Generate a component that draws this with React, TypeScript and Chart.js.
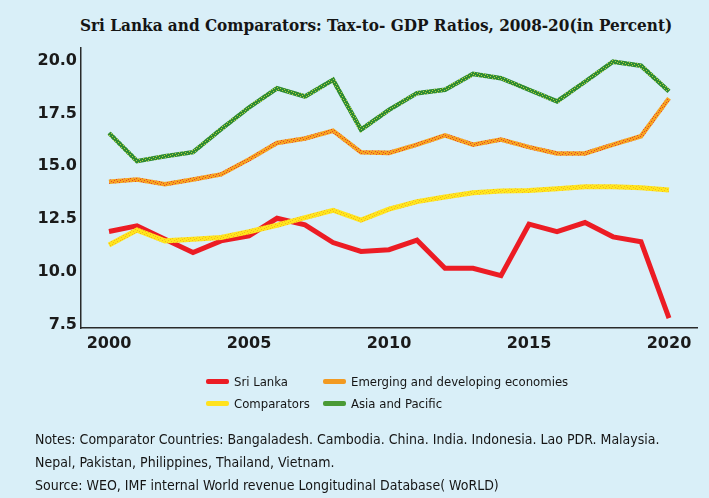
import React, { useEffect, useRef } from "react";
import { Chart, registerables } from "chart.js";

Chart.register(...registerables);

const years = [2000, 2001, 2002, 2003, 2004, 2005, 2006, 2007, 2008, 2009, 2010, 2011, 2012, 2013, 2014, 2015, 2016, 2017, 2018, 2019, 2020];
const sriLanka = [11.9, 12.17, 11.54, 10.91, 11.46, 11.7, 12.53, 12.22, 11.38, 10.96, 11.04, 11.49, 10.16, 10.16, 9.81, 12.25, 11.9, 12.33, 11.65, 11.42, 7.8];
const comparators = [11.26, 11.97, 11.46, 11.54, 11.62, 11.89, 12.2, 12.56, 12.91, 12.44, 12.96, 13.32, 13.54, 13.74, 13.82, 13.85, 13.93, 14.02, 14.02, 13.98, 13.87];
const emerging = [14.26, 14.37, 14.14, 14.37, 14.61, 15.32, 16.1, 16.31, 16.68, 15.66, 15.63, 16.02, 16.46, 16.02, 16.26, 15.9, 15.6, 15.6, 16.02, 16.42, 18.22];
const asiaPacific = [16.57, 15.24, 15.47, 15.66, 16.75, 17.78, 18.69, 18.3, 19.09, 16.73, 17.67, 18.46, 18.62, 19.37, 19.17, 18.62, 18.07, 19.0, 19.95, 19.76, 18.54];
const yTicks = [7.5, 10, 12.5, 15, 17.5, 20];
const xTicks = [2000, 2005, 2010, 2015, 2020];

const titleText = "Sri Lanka and Comparators: Tax-to- GDP Ratios, 2008-20(in Percent)";
const noteLines = [
  "Notes: Comparator Countries: Bangaladesh. Cambodia. China. India. Indonesia. Lao PDR. Malaysia.",
  "Nepal, Pakistan, Philippines, Thailand, Vietnam.",
  "Source: WEO, IMF internal World revenue Longitudinal Database( WoRLD)",
];

function makePattern(base: string, dot: string) {
  const c = document.createElement("canvas");
  c.width = 6;
  c.height = 6;
  const ctx = c.getContext("2d")!;
  ctx.fillStyle = base;
  ctx.fillRect(0, 0, 6, 6);
  ctx.fillStyle = dot;
  const pts = [[0, 0], [3, 1], [1, 3], [4, 4], [5, 2], [2, 5]];
  pts.forEach(([x, y]) => ctx.fillRect(x, y, 1, 1));
  return ctx.createPattern(c, "repeat")!;
}

const legendFont = "'DejaVu Sans Condensed', 'DejaVu Sans', sans-serif";

export default function App() {
  const ref = useRef<HTMLCanvasElement>(null);

  useEffect(() => {
    document.body.style.margin = "0";
    const green = makePattern("#2f8c33", "#b9cf3c");
    const orange = makePattern("#f6a41f", "#e5432a");
    const yellow = makePattern("#ffe61c", "#f4b420");
    const mk = (arr: number[]) => years.map((y, i) => ({ x: y, y: arr[i] }));
    const chart = new Chart(ref.current!, {
      type: "line",
      data: {
        datasets: [
          { label: "Comparators", data: mk(comparators), borderColor: yellow as any, borderWidth: 5, pointRadius: 0, order: 1 },
          { label: "Sri Lanka", data: mk(sriLanka), borderColor: "#ec1c24", borderWidth: 5, pointRadius: 0, order: 2 },
          { label: "Emerging and developing economies", data: mk(emerging), borderColor: orange as any, borderWidth: 4.5, pointRadius: 0, order: 3 },
          { label: "Asia and Pacific", data: mk(asiaPacific), borderColor: green as any, borderWidth: 4.5, pointRadius: 0, order: 4 },
        ],
      },
      options: {
        animation: false,
        responsive: false,
        maintainAspectRatio: false,
        layout: { padding: { left: 0, top: 48, right: 12, bottom: 140 } },
        plugins: { legend: { display: false }, title: { display: false }, tooltip: { enabled: false } },
        scales: {
          x: {
            type: "linear",
            min: 1999,
            max: 2021,
            afterBuildTicks: (s: any) => { s.ticks = xTicks.map((v) => ({ value: v })); },
            afterFit: (s: any) => { s.height = 30; },
            grid: { display: false, drawTicks: false },
            border: { display: true, color: "#2a2a2a", width: 1.5 },
            ticks: {
              autoSkip: false,
              maxRotation: 0,
              padding: 6,
              color: "#1a1a1a",
              font: { family: "'DejaVu Sans'", weight: "bold", size: 16 },
              callback: (v: any) => String(v),
            },
          },
          y: {
            min: 7.33,
            max: 20.6,
            afterBuildTicks: (s: any) => { s.ticks = yTicks.map((v) => ({ value: v })); },
            afterFit: (s: any) => { s.width = 81; },
            grid: { display: false, drawTicks: false },
            border: { display: true, color: "#2a2a2a", width: 1.5 },
            ticks: {
              padding: 4,
              color: "#1a1a1a",
              font: { family: "'DejaVu Sans'", weight: "bold", size: 16 },
              callback: (v: any) => Number(v).toFixed(1),
            },
          },
        },
      },
    });
    return () => chart.destroy();
  }, []);

  const legendItems = [
    { label: "Sri Lanka", color: "#ec1c24", left: 206, top: 381 },
    { label: "Emerging and developing economies", color: "#f29a22", left: 323, top: 381 },
    { label: "Comparators", color: "#ffe21e", left: 206, top: 403 },
    { label: "Asia and Pacific", color: "#4a9a35", left: 323, top: 403 },
  ];

  return (
    <div style={{ position: "relative", width: 709, height: 498, background: "#d9eff8", overflow: "hidden" }}>
      <div
        style={{
          position: "absolute", left: 80, width: 588, top: 14, textAlign: "center", whiteSpace: "nowrap",
          fontFamily: "'DejaVu Serif Condensed', 'DejaVu Serif', serif", fontWeight: "bold", fontSize: 17, color: "#151515", lineHeight: "22px",
        }}
      >
        {titleText}
      </div>
      <canvas ref={ref} width={709} height={498} style={{ position: "absolute", left: 0, top: 0, width: 709, height: 498 }} />
      {legendItems.map((it) => (
        <div key={it.label} style={{ position: "absolute", left: it.left, top: it.top - 9, height: 18, display: "flex", alignItems: "center", whiteSpace: "nowrap" }}>
          <div style={{ width: 23, height: 5, background: it.color, marginRight: 5, borderRadius: 2 }} />
          <span style={{ fontFamily: legendFont, fontSize: 13, color: "#151515" }}>{it.label}</span>
        </div>
      ))}
      {noteLines.map((t, i) => (
        <div
          key={i}
          style={{ position: "absolute", left: 35, top: [439, 462, 485][i] - 9, height: 18, lineHeight: "18px", whiteSpace: "nowrap", fontFamily: legendFont, fontSize: 14, color: "#151515" }}
        >
          {t}
        </div>
      ))}
    </div>
  );
}
